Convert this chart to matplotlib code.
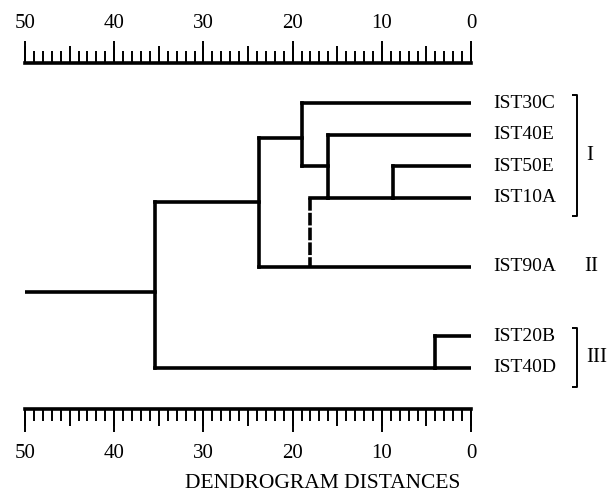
import matplotlib.pyplot as plt
from matplotlib.ticker import MultipleLocator

plt.rcParams['font.family'] = ['Liberation Serif', 'DejaVu Serif']

# leaves (top to bottom) and the row each sits on
leaves = ['IST30C', 'IST40E', 'IST50E', 'IST10A', 'IST90A', 'IST20B', 'IST40D']
leaf_rows = [0, 1, 2, 3, 5.2, 7.4, 8.4]

# merges
merge_names = ['A', 'B', 'C', 'D', 'E', 'root']
merge_children = [('IST50E', 'IST10A'), ('IST40E', 'A'), ('IST30C', 'B'),
                  ('C', 'IST90A'), ('IST20B', 'IST40D'), ('D', 'E')]
merge_dist = [8.8, 16.0, 19.0, 23.8, 4.0, 35.4]
merge_rows = [3, 2.0, 1.1, 3.15, 8.4, 6.0]

# dashed alternative link of IST90A to cluster B
alt_from, alt_to, alt_dist = 'A', 'IST90A', 18.0

groups = ['I', 'II', 'III']
group_members = [['IST30C', 'IST10A'], ['IST90A'], ['IST20B', 'IST40D']]

max_dist = 50
major_ticks = [50, 40, 30, 20, 10, 0]

fig = plt.figure(figsize=(6.15, 4.98), dpi=100)
ax = fig.add_axes([0.0407, 0.1787, 0.7252, 0.6948])

lw = 2.6
pos = {name: (0.0, r) for name, r in zip(leaves, leaf_rows)}
for name, (c1, c2), d, r in zip(merge_names, merge_children, merge_dist, merge_rows):
    d1, r1 = pos[c1]
    d2, r2 = pos[c2]
    ax.plot([d1, d], [r1, r1], color='black', lw=lw)
    ax.plot([d2, d], [r2, r2], color='black', lw=lw)
    ax.plot([d, d], [r1, r2], color='black', lw=lw)
    pos[name] = (d, r)

# root stub
d, r = pos['root']
ax.plot([d, max_dist], [r, r], color='black', lw=lw)

# dashed link
ax.plot([pos['B'][0], alt_dist], [pos[alt_from][1], pos[alt_from][1]], color='black', lw=lw)
ax.plot([alt_dist, alt_dist], [pos[alt_from][1], pos[alt_to][1]], color='black', lw=lw,
        linestyle=(0, (3.5, 0.6)))

# leaf labels
for name, r in zip(leaves, leaf_rows):
    ax.text(-2.5, r, name, fontsize=14, va='center', ha='left', clip_on=False)

# group brackets
bx = -11.9
for g, members in zip(groups, group_members):
    r0 = pos[members[0]][1]
    r1 = pos[members[-1]][1]
    if len(members) > 1:
        top, bot = r0 - 0.25, r1 + 0.6
        ax.plot([bx + 0.6, bx, bx, bx + 0.6], [top, top, bot, bot], color='black',
                lw=1.4, clip_on=False, solid_capstyle='butt')
        ax.text(bx - 1.0, (top + bot) / 2, g, fontsize=15, va='center', ha='left', clip_on=False)
    else:
        ax.text(bx - 1.6, r0, g, fontsize=15, va='center', ha='center', clip_on=False)

ax.set_xlim(max_dist, 0)
ax.set_ylim(9.71, -1.27)

for s in ['left', 'right']:
    ax.spines[s].set_visible(False)
for s in ['top', 'bottom']:
    ax.spines[s].set_linewidth(2.6)
ax.set_yticks([])

# unit ticks and the slightly longer 5-unit ticks on the main axes
ax.xaxis.set_major_locator(MultipleLocator(5))
ax.xaxis.set_minor_locator(MultipleLocator(1))
ax.tick_params(axis='x', which='both', top=True, bottom=True, labeltop=False,
               labelbottom=False, direction='out', width=1.4)
ax.tick_params(axis='x', which='major', length=12)
ax.tick_params(axis='x', which='minor', length=8.5)

# the labelled 10-unit ticks on both rulers
for loc, pad, length in [('top', 6, 15.5), ('bottom', 9, 16.5)]:
    sec = ax.secondary_xaxis(loc)
    sec.set_xticks(major_ticks)
    sec.tick_params(axis='x', length=length, width=1.4, direction='out', pad=pad, labelsize=15)
    for s in sec.spines.values():
        s.set_visible(False)

fig.text(0.524, 0.03, 'DENDROGRAM DISTANCES', fontsize=15.5, ha='center', va='center')

fig.savefig('out.png', dpi=100)
